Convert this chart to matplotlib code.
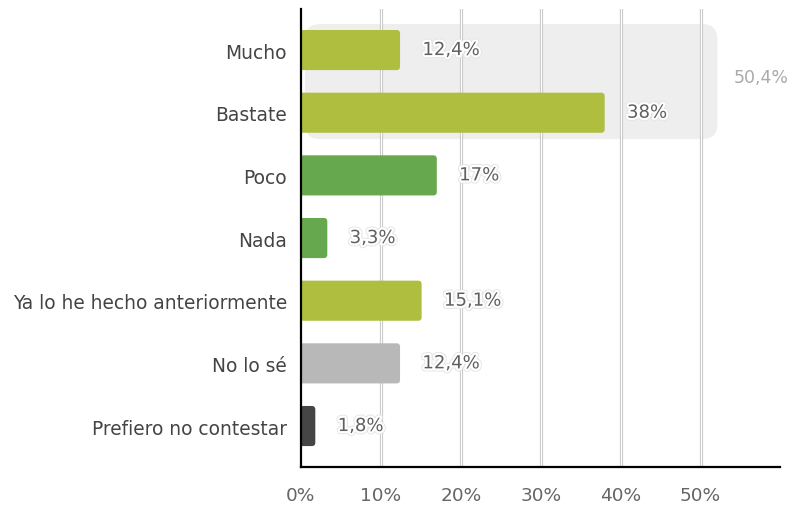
import matplotlib
matplotlib.use('Agg')
import matplotlib.pyplot as plt
import matplotlib.patheffects as pe
from matplotlib.patches import FancyBboxPatch

# survey answers and their share of responses (%)
categories = ['Mucho', 'Bastate', 'Poco', 'Nada', 'Ya lo he hecho anteriormente',
              'No lo sé', 'Prefiero no contestar']
values = [12.4, 38, 17, 3.3, 15.1, 12.4, 1.8]
value_labels = ['12,4%', '38%', '17%', '3,3%', '15,1%', '12,4%', '1,8%']
bar_colors = ['#afbe3e', '#afbe3e', '#66a84d', '#66a84d', '#afbe3e', '#b8b8b8', '#454545']
group_total = '50,4%'
x_ticks = [0, 10, 20, 30, 40, 50]
x_tick_labels = ['0%', '10%', '20%', '30%', '40%', '50%']

fig = plt.figure(figsize=(7.94, 5.06), dpi=100)
ax = fig.add_axes([0.379, 0.0751, 0.603, 0.905])
ax.set_xlim(0, 59.9)
ax.set_ylim(6.654, -0.654)

# px -> data factors used for rounded corners
px_x = 1 / 8.0
px_y = 1 / 62.67
aspect = px_y / px_x

# grey highlight box around the first two answers
box = FancyBboxPatch((0.5, -0.415), 51.6, 1.835,
                     boxstyle='round,pad=0,rounding_size=%f' % (15 * px_x),
                     mutation_aspect=aspect, facecolor='#eeeeee', edgecolor='none', zorder=0)
ax.add_patch(box)
ax.text(57.6, 0.43, group_total, color='#aaaaaa', fontsize=12.5, ha='center', va='center',
        clip_on=False)

# double-line vertical grid
for t in x_ticks[1:]:
    ax.axvline(t, color='#c8c8c8', lw=2.3, zorder=1)
    ax.axvline(t, color='white', lw=0.8, zorder=1.1)

bar_h = 0.64
for i, (v, c) in enumerate(zip(values, bar_colors)):
    bar = FancyBboxPatch((-1, i - bar_h / 2), v + 1, bar_h,
                         boxstyle='round,pad=0,rounding_size=%f' % (3.5 * px_x),
                         mutation_aspect=aspect, facecolor=c, edgecolor='none', zorder=2)
    ax.add_patch(bar)
    ax.text(v + 2.8, i, value_labels[i], color='#606060', fontsize=13, ha='left', va='center',
            zorder=3,
            path_effects=[pe.withStroke(linewidth=4.5, foreground='#e4e4e4'),
                          pe.withStroke(linewidth=3.2, foreground='white')])

ax.set_yticks(range(len(categories)))
ax.set_yticklabels(categories, fontsize=13.4, color='#444444')
ax.set_xticks(x_ticks)
ax.set_xticklabels(x_tick_labels, fontsize=13.3, color='#666666')
ax.tick_params(axis='y', length=0, pad=10)
ax.tick_params(axis='x', length=0, pad=14)

for s in ['top', 'right']:
    ax.spines[s].set_visible(False)
for s in ['left', 'bottom']:
    ax.spines[s].set_linewidth(1.6)
    ax.spines[s].set_color('black')
    ax.spines[s].set_zorder(4)

fig.savefig('out.png', dpi=100)
